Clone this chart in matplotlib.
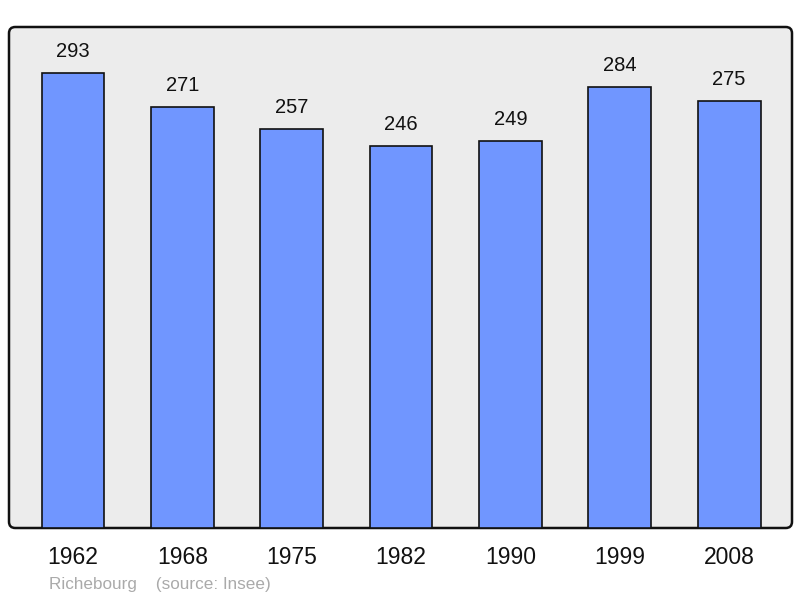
import matplotlib
matplotlib.use("Agg")
import matplotlib.pyplot as plt
from matplotlib.patches import FancyBboxPatch
from matplotlib.transforms import blended_transform_factory

years = ["1962", "1968", "1975", "1982", "1990", "1999", "2008"]
population = [293, 271, 257, 246, 249, 284, 275]

plt.rcParams['font.family'] = ['Liberation Sans', 'DejaVu Sans']

fig = plt.figure(figsize=(8, 5.98), dpi=100)
ax = fig.add_axes([9/800, 70/598, 783/800, 501/598])
ax.set_facecolor('none')
for s in ax.spines.values():
    s.set_visible(False)

frame = FancyBboxPatch((0, 0), 1, 1, boxstyle="round,pad=0,rounding_size=0.008",
                       transform=ax.transAxes, facecolor='#ececec', edgecolor='#111111',
                       linewidth=1.8, zorder=0, clip_on=False, mutation_aspect=783/501)
ax.add_patch(frame)

x = list(range(len(years)))
ax.bar(x, population, width=0.575, color='#7096ff', edgecolor='#111111', linewidth=1.2, zorder=2)
ax.set_xlim(-0.585, 6.575)
ax.set_ylim(0, 322.6)
ax.set_xticks([])
ax.set_yticks([])

for xi, v in zip(x, population):
    ax.annotate(str(v), (xi, v), xytext=(0, 15.5), textcoords='offset points',
                ha='center', va='center', fontsize=14.5, color='#111111')

trans = blended_transform_factory(ax.transData, ax.transAxes)
for xi, y in zip(x, years):
    ax.text(xi, -29/501, y, transform=trans, ha='center', va='center', fontsize=16.5, color='#111111')

fig.text(49/800, 1 - 584/598, "Richebourg    (source: Insee)", ha='left', va='center',
         fontsize=12.3, color='#aaaaaa')

fig.savefig("out.png", dpi=100)
